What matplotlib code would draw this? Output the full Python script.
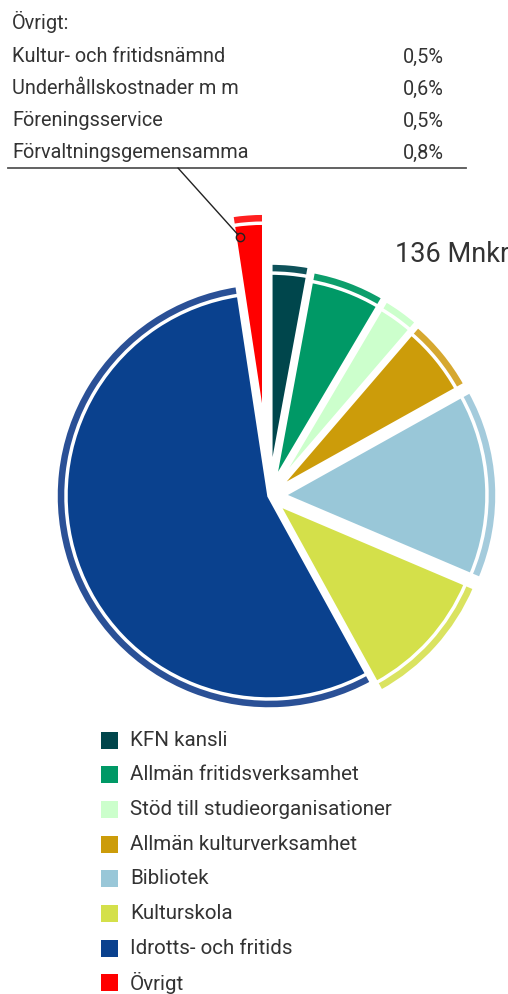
import matplotlib
matplotlib.use("Agg")
import matplotlib.pyplot as plt
import numpy as np
from matplotlib.patches import Rectangle

W, H = 508, 994  # figure size in pixels

# --- data ---
categories = ['KFN kansli', 'Allmän fritidsverksamhet', 'Stöd till studieorganisationer',
              'Allmän kulturverksamhet', 'Bibliotek', 'Kulturskola',
              'Idrotts- och fritids', 'Övrigt']
shares = [2.9, 5.6, 2.8, 5.6, 14.5, 10.6, 55.6, 2.4]
other_items = ['Kultur- och fritidsnämnd', 'Underhållskostnader m m',
               'Föreningsservice', 'Förvaltningsgemensamma']
other_shares = [0.5, 0.6, 0.5, 0.8]
total_label = '136 Mnkr'

# --- style ---
colors = ['#00464c', '#009966', '#ccffcc', '#cc9c0a', '#99c7d8', '#d4e04a', '#0a418e', '#ff0000']
rim_colors = ['#0e525a', '#0c9e6b', '#ccffcc', '#d6a82f', '#a4cbdc', '#dae360', '#2a5096', '#ff1f1f']
explode = [20, 16, 15, 13, 15, 13, 0, 70]  # pixel offsets
text_color = '#333333'
font = ['Roboto', 'DejaVu Sans']

fig = plt.figure(figsize=(W / 100, H / 100), dpi=100)
ax = fig.add_axes([0, 0, 1, 1])

cx, cy = 269, H - 496
R = 213

# outer rim first, then the inner wedges; the white edge of the inner
# wedge leaves the thin gap between wedge and rim
ax.pie(shares, radius=R, center=(cx, cy), explode=explode, colors=rim_colors,
       startangle=90, counterclock=False,
       wedgeprops=dict(edgecolor='white', linewidth=2.5))
wedges, _ = ax.pie(shares, radius=R - 10, center=(cx, cy), explode=explode,
                   colors=colors, startangle=90, counterclock=False,
                   wedgeprops=dict(edgecolor='white', linewidth=2.5))

ax.set_xlim(0, W)
ax.set_ylim(0, H)
ax.set_aspect('equal')
ax.axis('off')

# --- "Övrigt" breakdown at the top ---
ax.text(12, H - 22, 'Övrigt:', va='center', ha='left', fontsize=14.3,
        color=text_color, family=font)
for i, (name, val) in enumerate(zip(other_items, other_shares)):
    y = H - (57 + 32 * i)
    ax.text(12, y, name, va='center', ha='left', fontsize=14.3,
            color=text_color, family=font)
    ax.text(444, y, f'{val:.1f}%'.replace('.', ','), va='center', ha='right',
            fontsize=14.3, color=text_color, family=font)
ax.plot([8, 466], [H - 168, H - 168], color='#555555', lw=1.3)

# leader from the table to the Övrigt wedge
red = wedges[-1]
ang = np.deg2rad(red.theta1 + 0.83 * (red.theta2 - red.theta1))
px = red.center[0] + 0.94 * red.r * np.cos(ang)
py = red.center[1] + 0.94 * red.r * np.sin(ang)
ax.annotate('', xy=(px, py), xytext=(178, H - 168),
            arrowprops=dict(arrowstyle='-', color='#222222', lw=1.0,
                            shrinkA=0, shrinkB=2))
ax.plot(px, py, 'o', ms=6, mfc='none', mec='#222222', mew=1.0)

ax.text(395, H - 254, total_label, va='center', ha='left', fontsize=19.5,
        color=text_color, family=font)

# --- legend ---
for i, (lab, col) in enumerate(zip(categories, colors)):
    yc = H - (740 + 34.7 * i)
    ax.add_patch(Rectangle((101, yc - 8.5), 17, 17, color=col, lw=0))
    ax.text(130, yc, lab, va='center', ha='left', fontsize=14.8,
            color=text_color, family=font)

fig.savefig('out.png', dpi=100)
